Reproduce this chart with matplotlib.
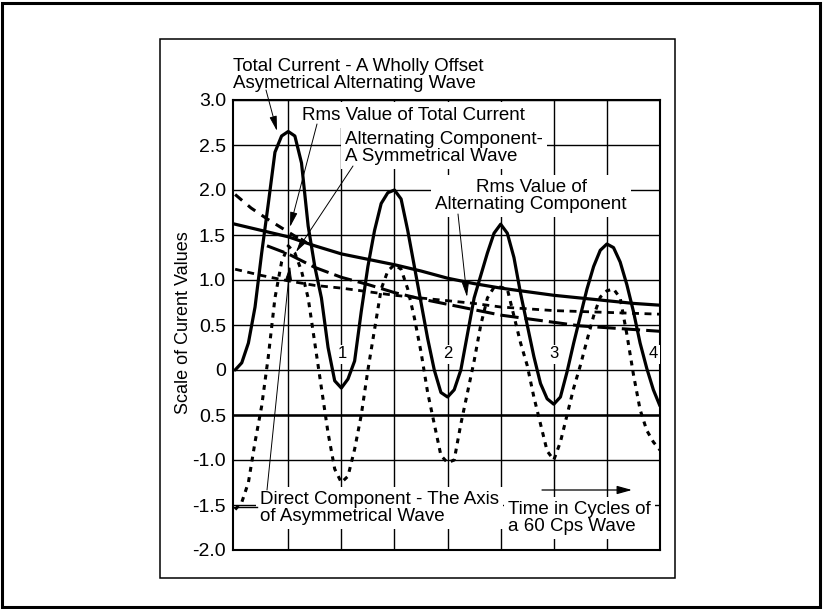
import numpy as np
import matplotlib
matplotlib.use('Agg')
import matplotlib.pyplot as plt
from matplotlib.patches import Rectangle

plt.rcParams['font.family'] = ['Liberation Sans', 'DejaVu Sans']

# time axis: cycles of a 60 cps wave
t_wave = np.linspace(0, 4, 65)
total_current = [0.0, 0.08, 0.3, 0.7, 1.3, 1.85, 2.42, 2.6, 2.65, 2.6, 2.3, 1.6, 1.15, 0.8, 0.25, -0.12, -0.2,
                 -0.1, 0.1, 0.65, 1.15, 1.55, 1.85, 1.97, 2.0, 1.9, 1.55, 1.15, 0.75, 0.35, 0.0, -0.25, -0.3,
                 -0.22, 0.0, 0.4, 0.8, 1.05, 1.3, 1.52, 1.62, 1.52, 1.25, 0.85, 0.5, 0.15, -0.15, -0.32, -0.38,
                 -0.3, -0.02, 0.3, 0.6, 0.9, 1.15, 1.33, 1.4, 1.36, 1.2, 0.95, 0.65, 0.3, 0.02, -0.22, -0.4]
ac_component = [-1.55, -1.47, -1.25, -0.8, -0.4, 0.15, 0.8, 1.2, 1.38, 1.3, 1.1, 0.8, 0.3, -0.2, -0.7, -1.1, -1.25,
                -1.18, -0.88, -0.5, 0.0, 0.45, 0.9, 1.1, 1.17, 1.12, 0.9, 0.58, 0.2, -0.25, -0.6, -0.95, -1.03,
                -1.0, -0.6, -0.25, 0.1, 0.5, 0.8, 0.92, 0.92, 0.9, 0.6, 0.3, 0.05, -0.3, -0.6, -0.9, -1.0,
                -0.8, -0.5, -0.2, 0.05, 0.33, 0.6, 0.81, 0.88, 0.9, 0.8, 0.4, -0.05, -0.44, -0.67, -0.8, -0.89]

t_env = np.linspace(0, 4, 17)
rms_total = [1.62, 1.55, 1.48, 1.38, 1.29, 1.23, 1.17, 1.10, 1.02, 0.96, 0.91, 0.87, 0.83, 0.80, 0.77, 0.74, 0.72]
rms_ac = [1.12, 1.05, 0.99, 0.94, 0.91, 0.87, 0.83, 0.80, 0.77, 0.74, 0.70, 0.68, 0.66, 0.65, 0.64, 0.63, 0.62]

t_start = [0, 0.15, 0.3, 0.45, 0.6]
start_curve = [1.95, 1.80, 1.68, 1.57, 1.46]

t_dc = [0.3, 0.5, 0.75, 1.0, 1.25, 1.5, 1.75, 2.0, 2.25, 2.5, 2.75, 3.0, 3.25, 3.5, 3.75, 4.0]
dc_component = [1.38, 1.29, 1.14, 1.03, 0.95, 0.86, 0.79, 0.73, 0.67, 0.61, 0.57, 0.53, 0.49, 0.47, 0.45, 0.43]

y_ticks = [3.0, 2.5, 2.0, 1.5, 1.0, 0.5, 0, -0.5, -1.0, -1.5, -2.0]
y_labels = ['3.0', '2.5', '2.0', '1.5', '1.0', '0.5', '0', '0.5', '-1.0', '-1.5', '-2.0']
cycle_labels = ['1', '2', '3', '4']

XLIM = (-0.02, 4.0)
YLIM = (-2.0, 3.0)
W, H = 823, 609


def pos(x, y):
    # pixel position in the picture -> data coordinates
    return (XLIM[0] + (x - 233) * (XLIM[1] - XLIM[0]) / 427, 3 - (y - 100) / 90)


fig = plt.figure(figsize=(W / 100, H / 100), dpi=100)
ax = fig.add_axes([233 / W, 1 - 550 / H, 427 / W, 450 / H])
ax.set_xlim(*XLIM)
ax.set_ylim(*YLIM)

ax.set_yticks(y_ticks)
ax.set_yticklabels(y_labels, fontsize=14)
ax.set_xticks(np.arange(0.5, 4.0, 0.5))
ax.set_xticklabels([])
ax.tick_params(length=0, pad=5)
ax.grid(True, color='black', lw=1.0)
ax.set_axisbelow(True)
ax.axhline(-0.5, color='black', lw=1.8, zorder=0.6)
for s in ax.spines.values():
    s.set_linewidth(1.5)

ax.plot(t_wave, total_current, color='black', lw=2.3, zorder=4, solid_capstyle='round')
ax.plot(t_wave, ac_component, color='black', lw=2.2, ls=(0, (1.6, 1.8)), zorder=4)
ax.plot(t_env, rms_total, color='black', lw=2.3, zorder=4)
ax.plot(t_env, rms_ac, color='black', lw=2.0, ls=(0, (2.5, 2.0)), zorder=4)
ax.plot(t_start, start_curve, color='black', lw=2.2, ls=(0, (3.0, 2.5)), zorder=4)
ax.plot(t_dc, dc_component, color='black', lw=2.2, ls=(0, (6.0, 2.0)), zorder=4)

box = dict(facecolor='white', edgecolor='none', pad=3)
fs = 13.5
arrow = dict(arrowstyle='-|>,head_length=0.9,head_width=0.22', lw=0.7, color='black',
             shrinkA=0, shrinkB=0)


def label(text, x, y, ha='left'):
    ax.text(*pos(x, y), text, fontsize=fs, ha=ha, va='center', linespacing=0.95,
            bbox=box, zorder=3)


def pointer(x0, y0, x1, y1, style=arrow):
    ax.annotate('', xy=pos(x1, y1), xytext=pos(x0, y0), arrowprops=style,
                zorder=5, annotation_clip=False)


label('Total Current - A Wholly Offset\nAsymetrical Alternating Wave', 233, 75)
pointer(266, 90, 277, 131)

label('Rms Value of Total Current', 302, 115)
pointer(317, 124, 290, 227)

label('Alternating Component-\nA Symmetrical Wave', 345, 148)
pointer(353, 166, 296, 252)

label('Rms Value of\nAlternating Component', 531, 196, ha='center')
pointer(458, 214, 467, 297)

label('Direct Component - The Axis\nof Asymmetrical Wave', 260, 508)
pointer(267, 490, 290, 266)
ax.plot(*zip(pos(233, 507), pos(257, 507)), color='black', lw=1.0, zorder=5)

label('Time in Cycles of\na 60 Cps Wave', 508, 518)
pointer(542, 490, 632, 490, dict(arrowstyle='-|>,head_length=0.9,head_width=0.25', lw=0.9,
                                 color='black', shrinkA=0, shrinkB=0))

for lab, x in zip(cycle_labels, [342, 448, 554, 653]):
    ax.text(*pos(x, 354), lab, fontsize=12, ha='center', va='center',
            bbox=dict(facecolor='white', edgecolor='none', pad=1.5), zorder=3)

ax.text(*pos(184, 323), 'Scale of Curent Values', fontsize=13, rotation=90,
        ha='center', va='center')

# inner frame and outer border
fig.add_artist(Rectangle((160 / W, 1 - 578 / H), 515 / W, 539 / H, transform=fig.transFigure,
                         fill=False, lw=1.1, edgecolor='black'))
fig.add_artist(Rectangle((2 / W, 2 / H), 818 / W, 604 / H, transform=fig.transFigure,
                         fill=False, lw=2.2, edgecolor='black'))

fig.savefig('out.png', dpi=100)
